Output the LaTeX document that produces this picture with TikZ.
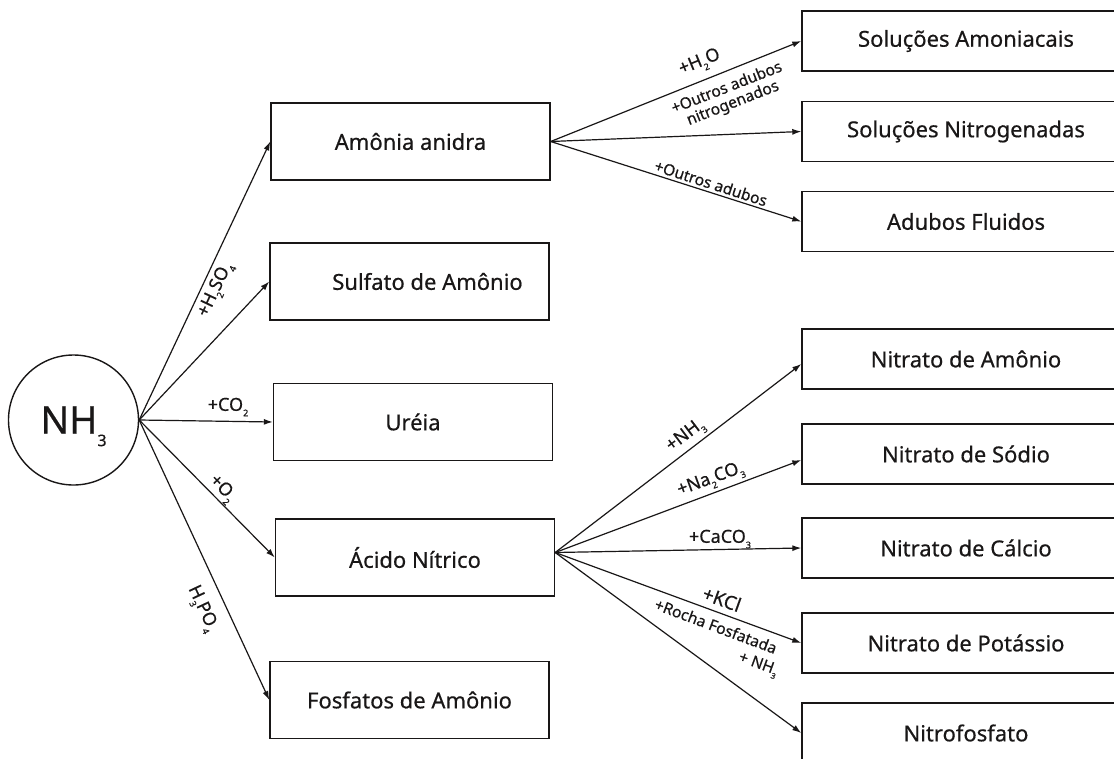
\documentclass[tikz,border=0pt]{standalone}
\usepackage{fontspec}
\setmainfont{Noto Sans}[FakeBold=0.5]
\usetikzlibrary{arrows.meta}
\definecolor{ink}{RGB}{25,23,23}
% small lowered chemical index
\newcommand\chsub[1]{\raisebox{-0.3em}{\scalebox{0.5}{#1}}}
\tikzset{
  box/.style={draw=ink, line width=1.4pt, inner sep=0pt, text=ink,
    font=\fontsize{22}{27}\selectfont},
  leftbox/.style={box, minimum width=279pt, minimum height=77pt},
  rightbox/.style={box, minimum width=328pt, minimum height=60pt},
  lbl/.style={inner sep=0pt, text=ink, font=\fontsize{18}{20}\selectfont},
  smalllbl/.style={lbl, font=\fontsize{15.5}{16.5}\selectfont},
  arr/.style={draw=ink, line width=1.2pt, -{Latex[length=9pt,width=6pt]}}
}
\begin{document}
\begin{tikzpicture}[x=1pt, y=-1pt]
\useasboundingbox (0,0) rectangle (1114,758);
\fill[white] (0,0) rectangle (1114,758);
\clip (0,0) rectangle (1114,758);

% source
\node[circle, draw=ink, line width=1.4pt, minimum size=130pt, inner sep=0pt, text=ink,
      font=\fontsize{38}{40}\selectfont] (nh) at (73.5,420)
  {NH\smash{\raisebox{-0.33em}{\scalebox{0.42}{3}}}};

% first-stage products
\node[leftbox] (am) at (410.5,141.5) {Amônia anidra};
\node[leftbox] (su) at (409.5,281.5) {\hspace{36pt}Sulfato de Amônio};
\node[leftbox] (ur) at (413,422) {Uréia\hspace{16pt}};
\node[leftbox] (ac) at (415,557.5) {Ácido Nítrico\hspace{18pt}};
\node[leftbox] (fo) at (409.5,700) {Fosfatos de Amônio};

% products of anhydrous ammonia
\node[rightbox] (sam) at (966,41) {Soluções Amoniacais};
\node[rightbox] (sni) at (966,131.5) {Soluções Nitrogenadas};
\node[rightbox] (adf) at (966,221.5) {Adubos Fluidos};

% products of nitric acid
\node[rightbox] (nam) at (966,359) {Nitrato de Amônio};
\node[rightbox] (nso) at (966,454) {Nitrato de Sódio};
\node[rightbox] (nca) at (966,548) {Nitrato de Cálcio};
\node[rightbox] (npo) at (966,643) {Nitrato de Potássio};
\node[rightbox] (nfo) at (966,733) {Nitrofosfato};

% connectors from NH3
\draw[arr] (nh.east) -- (am.west);
\draw[arr] (nh.east) -- (su.west);
\draw[arr] (nh.east) -- (ur.west);
\draw[arr] (nh.east) -- (ac.west);
\draw[arr] (nh.east) -- (fo.west);

% connectors from anhydrous ammonia
\draw[arr] (am.east) -- (sam.west);
\draw[arr] (am.east) -- (sni.west);
\draw[arr] (am.east) -- (adf.west);

% connectors from nitric acid
\coordinate (acout) at ([yshift=5pt]ac.east);
\draw[arr] (acout) -- ([yshift=-5pt]nam.west);
\draw[arr] (acout) -- ([yshift=-6pt]nso.west);
\draw[arr] (acout) -- (nca.west);
\draw[arr] (acout) -- (npo.west);
\draw[arr] (acout) -- (nfo.west);

% reagent labels
\node[lbl, rotate=64.6] (lh2so4) at (216,290) {+H\chsub{2}SO\chsub{4}};
\node[lbl] (lco2) at (228,407) {+CO\chsub{2}};
\node[lbl, rotate=-45.6] (lo2) at (222,489) {+O\chsub{2}};
\node[lbl, rotate=-64.9] (lh3po4) at (202,609) {H\chsub{3}PO\chsub{4}};

\node[lbl, rotate=22.4] (lh2o) at (700,63) {+H\chsub{2}O};
\node[smalllbl, rotate=21.4, align=center] (lnit) at (730,96) {+Outros adubos\\nitrogenados};
\node[smalllbl, rotate=-17.9] (lout) at (711,183) {+Outros adubos};

\node[lbl, rotate=37.1] (lnh3) at (686,436) {+NH\chsub{3}};
\node[lbl, rotate=20.2] (lna) at (711,480) {+Na\chsub{2}CO\chsub{3}};
\node[lbl] (lca) at (720,539) {+CaCO\chsub{3}};
\node[lbl, rotate=-19.8, font=\fontsize{19}{21}\selectfont] (lkcl) at (722,599) {+KCl};
\node[smalllbl, rotate=-20.5] (lrocha) at (716,626) {+Rocha Fosfatada};
\node[smalllbl, rotate=-20] (lnh3b) at (758,665) {+ NH\chsub{3}};
\end{tikzpicture}
\end{document}
